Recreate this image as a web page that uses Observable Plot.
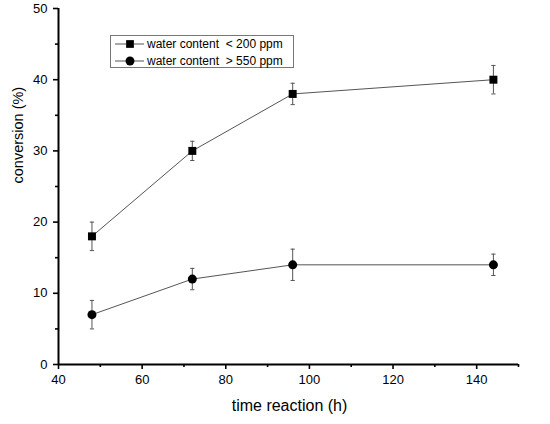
<!DOCTYPE html>
<html>
<head>
<meta charset="utf-8">
<script src="https://cdn.jsdelivr.net/npm/d3@7"></script>
<script src="https://cdn.jsdelivr.net/npm/@observablehq/plot@0.6"></script>
<style>
  body { margin: 0; background: white; }
  #wrap { position: relative; width: 550px; height: 424px; }
  #legend {
    position: absolute; left: 110px; top: 35px; width: 182px; height: 31px;
    border: 1px solid #777; background: white;
    font-family: "Liberation Sans", Arial, sans-serif; font-size: 12px; color: black;
  }
  #legend div { position: absolute; left: 0; height: 16px; }
  #legend svg { position: absolute; left: 3px; top: 0; }
  #legend span { position: absolute; left: 36px; top: 1px; white-space: pre; }
</style>
</head>
<body>
<div id="wrap">
  <div id="chart"></div>
  <div id="legend"></div>
</div>
<script>
// reaction times (h)
const times = [48, 72, 96, 144];
// conversion (%) and error bar half-widths
const lowWater = [18, 30, 38, 40];
const lowWaterErr = [2, 1.35, 1.5, 2];
const highWater = [7, 12, 14, 14];
const highWaterErr = [2, 1.5, 2.2, 1.5];
const seriesNames = ["water content  < 200 ppm", "water content  > 550 ppm"];
const seriesSymbols = ["square", "circle"];

const xTicks = [40, 60, 80, 100, 120, 140];
const xMinor = [50, 70, 90, 110, 130, 150];
const yTicks = [0, 10, 20, 30, 40, 50];
const yMinor = [5, 15, 25, 35, 45];

const data = [];
times.forEach((t, i) => {
  data.push({series: seriesNames[0], time: t, value: lowWater[i], err: lowWaterErr[i]});
  data.push({series: seriesNames[1], time: t, value: highWater[i], err: highWaterErr[i]});
});

// short horizontal line used for error bar caps
const cap = {
  draw(ctx, size) {
    const r = Math.sqrt(size / Math.PI);
    ctx.moveTo(-r, 0);
    ctx.lineTo(r, 0);
  }
};

const chart = Plot.plot({
  width: 550,
  height: 424,
  marginLeft: 58,
  marginRight: 32,
  marginTop: 8,
  marginBottom: 60,
  style: {
    "font-family": "Liberation Sans, Arial, sans-serif",
    color: "black",
    background: "white",
  },
  x: { domain: [40, 150] },
  y: { domain: [0, 50] },
  symbol: { domain: seriesNames, range: seriesSymbols },
  marks: [
    Plot.axisX({ ticks: xTicks, tickSize: 5, tickPadding: 5, fontSize: 13, label: null, strokeWidth: 1.6 }),
    Plot.axisX({ ticks: xMinor, tickSize: 3, text: null, label: null, strokeWidth: 1.6 }),
    Plot.axisY({ ticks: yTicks, tickSize: 5, tickPadding: 6, fontSize: 13, label: null, strokeWidth: 1.6 }),
    Plot.axisY({ ticks: yMinor, tickSize: 3, text: null, label: null, strokeWidth: 1.6 }),
    Plot.ruleY([0], { stroke: "black", strokeWidth: 2 }),
    Plot.ruleX([40], { stroke: "black", strokeWidth: 2 }),
    Plot.text(["time reaction (h)"], { frameAnchor: "bottom", dx: 1, dy: 46, fontSize: 16, fill: "black" }),
    Plot.text(["conversion (%)"], { frameAnchor: "left", dx: -40, dy: -3, rotate: -90, fontSize: 14.5, fill: "black" }),
    Plot.line(data, { x: "time", y: "value", z: "series", stroke: "#555", strokeWidth: 1 }),
    Plot.ruleX(data, { x: "time", y1: (d) => d.value - d.err, y2: (d) => d.value + d.err, stroke: "#555", strokeWidth: 1 }),
    Plot.dot(data, { x: "time", y: (d) => d.value - d.err, symbol: () => cap, r: 2.1, stroke: "#555", strokeWidth: 1 }),
    Plot.dot(data, { x: "time", y: (d) => d.value + d.err, symbol: () => cap, r: 2.1, stroke: "#555", strokeWidth: 1 }),
    Plot.dot(data, { x: "time", y: "value", symbol: "series", r: 4.5, fill: "black", stroke: "none" }),
  ],
});

d3.select("#chart").append(() => chart);

// legend, drawn in the top-left corner of the frame like the original
const legend = d3.select("#legend");
seriesNames.forEach((name, i) => {
  const row = legend.append("div").style("top", (i * 16.5) + "px").style("width", "180px");
  const svg = row.append("svg").attr("width", 32).attr("height", 16);
  svg.append("line").attr("x1", 1).attr("x2", 30).attr("y1", 8).attr("y2", 8)
    .attr("stroke", "#555").attr("stroke-width", 1);
  svg.append("path").attr("transform", "translate(16,8)")
    .attr("d", d3.symbol(i === 0 ? d3.symbolSquare : d3.symbolCircle, i === 0 ? 60 : 62)())
    .attr("fill", "black");
  row.append("span").text(name);
});
</script>
</body>
</html>
